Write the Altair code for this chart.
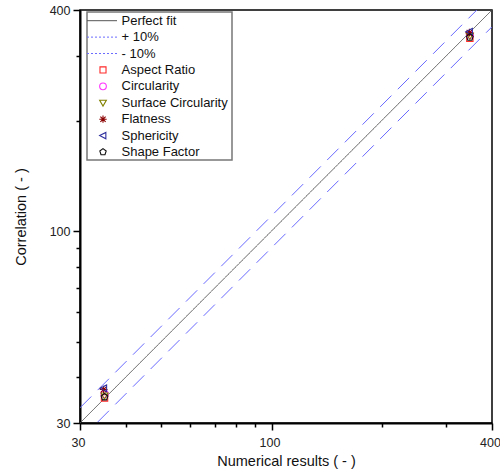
import altair as alt
import pandas as pd

# ---- data -------------------------------------------------------------
line_names = ["Perfect fit", "+ 10%", "- 10%"]
line_factors = [1.0, 1.1, 0.9]
line_colors = ["#555555", "#6a6aff", "#6a6aff"]
line_dash = [[1, 0], [16, 9], [16, 9]]
legend_dash = [[1, 0], [2, 2], [2, 2]]
x_ends = [30, 400]

series = ["Aspect Ratio", "Circularity", "Surface Circularity",
          "Flatness", "Sphericity", "Shape Factor"]
series_colors = ["#ff2a2a", "#ff33ff", "#808000", "#8b0000", "#2f2f9f", "#111111"]

# numerical result (x) and correlation value (y) for the two cases
num_low = [35.0, 35.0, 35.0, 34.8, 34.8, 35.0]
cor_low = [35.1, 36.0, 35.6, 37.0, 37.3, 35.3]
num_high = [348, 348, 348, 347, 347, 348]
cor_high = [335, 342, 340, 347, 349, 337]

all_ticks = [30, 40, 50, 60, 70, 80, 90, 100, 200, 300, 400]

# ---- marker shapes (unit SVG paths, -1..1 box) ---------------------------
square = "M-0.9,-0.9H0.9V0.9H-0.9Z"
circle = "circle"
tri_down = "M-1,-0.75L1,-0.75L0,1Z"
asterisk = "M0,-1.1V1.1M-1.1,0H1.1M-0.78,-0.78L0.78,0.78M-0.78,0.78L0.78,-0.78"
tri_left = "M-1,0L0.85,-0.95L0.85,0.95Z"
pentagon = "M0,-1L0.95,-0.31L0.59,0.81L-0.59,0.81L-0.95,-0.31Z"
series_shapes = [square, circle, tri_down, asterisk, tri_left, pentagon]

# ---- tables -----------------------------------------------------------
lines_df = pd.DataFrame([
    {"name": n, "x": x, "y": x * f}
    for n, f in zip(line_names, line_factors) for x in x_ends
])
pts_df = pd.DataFrame(
    [{"name": s, "x": a, "y": b} for s, a, b in zip(series, num_low, cor_low)]
    + [{"name": s, "x": a, "y": b} for s, a, b in zip(series, num_high, cor_high)]
)

legend_labels = line_names + series
legend_lines_df = pd.DataFrame({"name": line_names})
legend_pts_df = pd.DataFrame({"name": series})
legend_text_df = pd.DataFrame({"name": legend_labels})

# ---- scales -------------------------------------------------------------
xscale = alt.Scale(type="log", domain=[30, 400], nice=False)
yscale = alt.Scale(type="log", domain=[30, 400], nice=False)
line_stroke = alt.Scale(domain=line_names, range=line_colors)
pt_color = alt.Scale(domain=series, range=series_colors)
pt_shape = alt.Scale(domain=series, range=series_shapes)

is_major = "datum.value == 30 || datum.value == 100 || datum.value == 400"
tick_size = {"condition": {"test": is_major, "value": 7}, "value": 4}

x_axis = alt.Axis(values=all_ticks, format="d", title="Numerical results ( - )",
                  labelExpr=f"{is_major} ? datum.label : ''", tickSize=tick_size,
                  labelFlush=False, labelOverlap=False, grid=False,
                  labelPadding=6, labelOffset=-2, titlePadding=6)
y_axis = alt.Axis(values=all_ticks, format="d", title="Correlation ( - )",
                  labelExpr=f"{is_major} ? datum.label : ''", tickSize=tick_size,
                  labelFlush=False, labelOverlap=False, grid=False,
                  labelPadding=3, titlePadding=21)

# ---- main layers --------------------------------------------------------
fit_lines = alt.Chart(lines_df).mark_line(strokeWidth=1, clip=True).encode(
    x=alt.X("x:Q", scale=xscale, axis=x_axis),
    y=alt.Y("y:Q", scale=yscale, axis=y_axis),
    stroke=alt.Stroke("name:N", scale=line_stroke, legend=None),
    strokeDash=alt.StrokeDash("name:N", scale=alt.Scale(domain=line_names, range=line_dash),
                              legend=None),
    detail="name:N",
)

points = alt.Chart(pts_df).mark_point(filled=False, size=50, strokeWidth=1.1, opacity=1).encode(
    x=alt.X("x:Q", scale=xscale),
    y=alt.Y("y:Q", scale=yscale),
    color=alt.Color("name:N", scale=pt_color, legend=None),
    shape=alt.Shape("name:N", scale=pt_shape, legend=None),
)

main = alt.layer(fit_lines, points)

# ---- legend box ---------------------------------------------------------
row_scale = alt.Scale(type="point", domain=legend_labels, range=[10.7, 142], padding=0)

legend_box = alt.Chart(pd.DataFrame({"k": [0]})).mark_rect(
    fill="white", stroke="#777777", strokeWidth=1.5
).encode(x=alt.value(7), x2=alt.value(152), y=alt.value(2), y2=alt.value(150))

legend_lines = alt.Chart(legend_lines_df).mark_rule(strokeWidth=1).encode(
    x=alt.value(7), x2=alt.value(37),
    y=alt.Y("name:N", scale=row_scale, axis=None),
    stroke=alt.Stroke("name:N", scale=line_stroke, legend=None),
    strokeDash=alt.StrokeDash("name:N", scale=alt.Scale(domain=line_names, range=legend_dash),
                              legend=None),
)

legend_pts = alt.Chart(legend_pts_df).mark_point(filled=False, size=45, strokeWidth=1.1, opacity=1).encode(
    x=alt.value(23),
    y=alt.Y("name:N", scale=row_scale, axis=None),
    color=alt.Color("name:N", scale=pt_color, legend=None),
    shape=alt.Shape("name:N", scale=pt_shape, legend=None),
)

legend_text = alt.Chart(legend_text_df).mark_text(
    align="left", baseline="middle", font="Liberation Sans", fontSize=13, color="#111111"
).encode(
    x=alt.value(41.5),
    y=alt.Y("name:N", scale=row_scale, axis=None),
    text="name:N",
)

legend = alt.layer(legend_box, legend_lines, legend_pts, legend_text)

chart = alt.layer(main, legend).resolve_scale(
    y="independent", strokeDash="independent"
).properties(
    width=412, height=413,
    autosize=alt.AutoSizeParams(type="none"),
    padding={"left": 80, "top": 10, "right": 8, "bottom": 49},
).configure_view(
    stroke="black", strokeWidth=1.5
).configure_axis(
    labelFont="Liberation Sans", labelFontSize=12.5, labelColor="#222222",
    titleFont="Liberation Sans", titleFontSize=14.5, titleColor="#111111",
    titleFontWeight="normal",
    domainColor="black", domainWidth=2, tickColor="black", tickWidth=1.5,
)

chart.save("out.html", embed_options={"renderer": "svg", "actions": False})
